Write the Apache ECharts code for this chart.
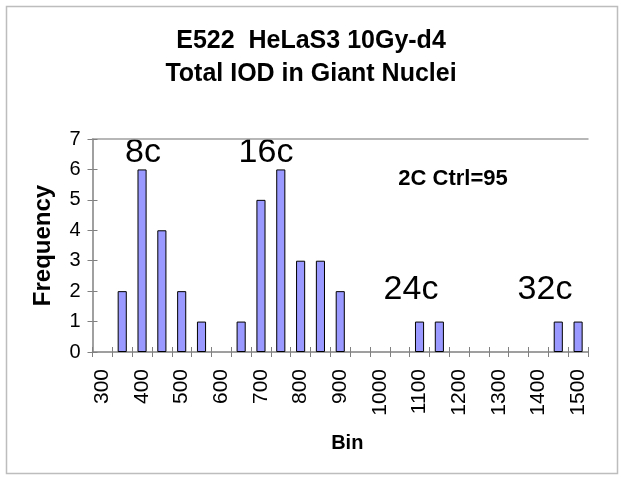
<!DOCTYPE html>
<html><head><meta charset="utf-8">
<script src="https://cdn.jsdelivr.net/npm/echarts@6/dist/echarts.min.js"></script>
<style>html,body{margin:0;padding:0;background:#fff}#c{width:622px;height:484px}</style>
</head><body><div id="c"></div>
<script>
const bins = ['300','350','400','450','500','550','600','650','700','750','800','850','900','950','1000','1050','1100','1150','1200','1250','1300','1350','1400','1450','1500'];
const frequency = [0,2,6,4,2,1,0,1,5,6,3,3,2,0,0,0,1,1,0,0,0,0,0,1,1];
const titleLines = ['E522  HeLaS3 10Gy-d4','Total IOD in Giant Nuclei'];
const peakLabels = ['8c','16c','24c','32c'];
const noteText = '2C Ctrl=95';

const F = 'Arial, "Liberation Sans", Helvetica, sans-serif';
const chart = echarts.init(document.getElementById('c'), null, {renderer:'canvas'});
const grid = {left:92.5, right:34, top:139, bottom:132};
chart.setOption({
  animation:false,
  backgroundColor:'#fff',
  title:{text:titleLines.join('\n'), left:'center', top:20,
    textStyle:{fontFamily:F, fontSize:25, fontWeight:'bold', color:'#000', lineHeight:33}},
  grid:grid,
  xAxis:[
    {type:'category', data:bins, boundaryGap:true,
     axisLine:{lineStyle:{color:'#808080', width:1.5}},
     axisTick:{show:true, interval:0, length:5, lineStyle:{color:'#808080'}},
     axisLabel:{interval:1, rotate:90, fontFamily:F, fontSize:21, color:'#000', margin:17},
     name:'Bin', nameLocation:'middle', nameGap:81,
     nameTextStyle:{fontFamily:F, fontSize:20, fontWeight:'bold', color:'#000', padding:[0,0,0,14]}},
    {type:'category', data:bins, position:'bottom', boundaryGap:true,
     axisLine:{show:false}, axisTick:{show:true, inside:true, interval:0, length:5, lineStyle:{color:'#808080'}},
     axisLabel:{show:false}},
    {type:'category', data:bins, position:'top',
     axisLine:{show:true, lineStyle:{color:'#a0a0a0', width:1.5}}, axisTick:{show:false}, axisLabel:{show:false}}
  ],
  yAxis:[
    {type:'value', min:0, max:7, interval:1,
     axisLine:{show:true, lineStyle:{color:'#808080', width:1.5}},
     axisTick:{show:true, length:5, lineStyle:{color:'#808080'}},
     splitLine:{show:false},
     axisLabel:{fontFamily:F, fontSize:20, color:'#000', margin:12},
     name:'Frequency', nameLocation:'middle', nameGap:37,
     nameTextStyle:{fontFamily:F, fontSize:24, fontWeight:'bold', color:'#000'}},
    {type:'value', min:0, max:7, interval:1, position:'left',
     axisLine:{show:false}, axisTick:{show:true, inside:true, length:5, lineStyle:{color:'#808080'}},
     splitLine:{show:false}, axisLabel:{show:false}}
  ],
  series:[{type:'bar', data:frequency.map(v => v === 0 ? '-' : v), barWidth:'46%', xAxisIndex:0, yAxisIndex:0,
    itemStyle:{color:'#9999FF', borderColor:'#000', borderWidth:1}}],
  graphic:[
    {type:'rect', shape:{x:6.5, y:6.5, width:611, height:467}, style:{fill:null, stroke:'#bdbdbd', lineWidth:1.5}, silent:true, z:-1},
    {type:'text', x:143, y:153, style:{text:peakLabels[0], font:'34px '+F, fill:'#000', textAlign:'center', textVerticalAlign:'middle'}},
    {type:'text', x:266, y:153, style:{text:peakLabels[1], font:'34px '+F, fill:'#000', textAlign:'center', textVerticalAlign:'middle'}},
    {type:'text', x:411, y:290, style:{text:peakLabels[2], font:'34px '+F, fill:'#000', textAlign:'center', textVerticalAlign:'middle'}},
    {type:'text', x:545, y:290, style:{text:peakLabels[3], font:'34px '+F, fill:'#000', textAlign:'center', textVerticalAlign:'middle'}},
    {type:'text', x:453, y:179, style:{text:noteText, font:'bold 22px '+F, fill:'#000', textAlign:'center', textVerticalAlign:'middle'}}
  ]
});
</script></body></html>
